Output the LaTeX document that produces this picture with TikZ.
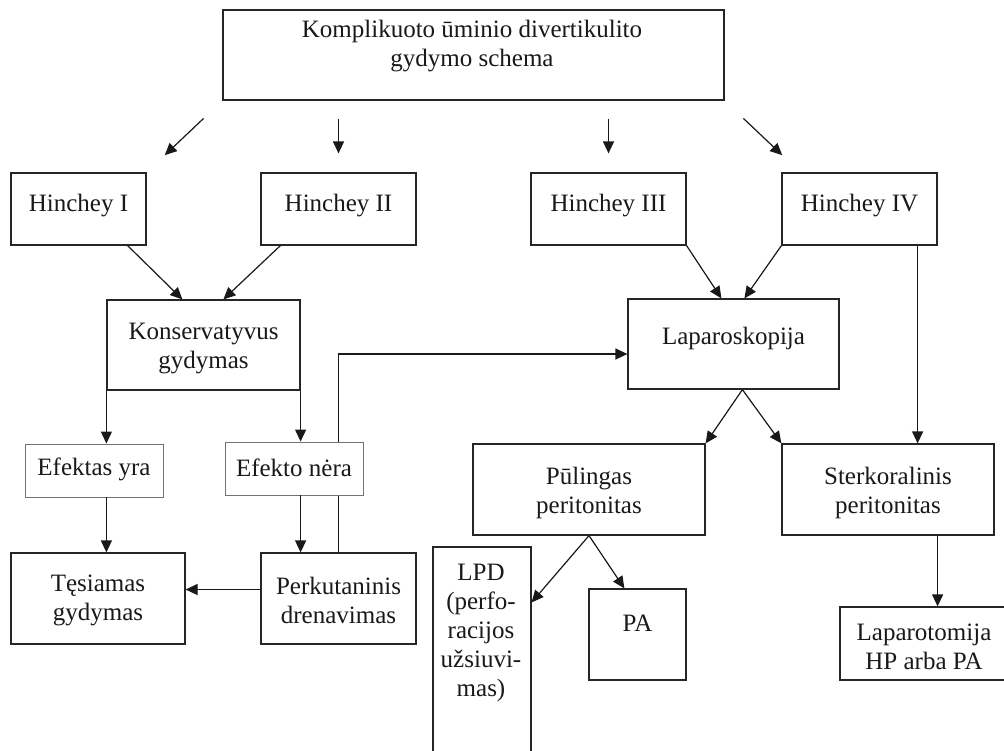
\documentclass[tikz,border=0pt]{standalone}
\usepackage{fontspec}
\setmainfont{Liberation Serif}
\usetikzlibrary{arrows.meta,calc,backgrounds}
\begin{document}
\begin{tikzpicture}[x=1pt,y=-1pt,
  box/.style 2 args={draw=black!85, line width=1.2pt, fill=white, inner sep=0pt, minimum width=#1pt, minimum height=#2pt},
  gbox/.style 2 args={box={#1}{#2}, draw=black!55, line width=0.9pt},
  txt/.style={font=\fontsize{25}{29}\selectfont, align=center, inner sep=0pt, text=black!90},
  arr/.style={line width=1.2pt, draw=black!90, -{Triangle[length=12pt,width=11pt]}}]
\useasboundingbox (0,0) rectangle (1004,750);
\clip (0,0) rectangle (1004,750);
% boxes
\node[box={501}{90}]  (top) at (473.5,55) {};
\node[box={135}{72}]  (H1)  at (78.5,209) {};
\node[box={155}{72}]  (H2)  at (338.5,209) {};
\node[box={155}{72}]  (H3)  at (608.5,209) {};
\node[box={155}{72}]  (H4)  at (859.5,209) {};
\node[box={193}{90}]  (K)   at (203.5,345) {};
\node[gbox={138}{53}] (E1)  at (94,470.5) {};
\node[gbox={138}{53}] (E2)  at (294,468.5) {};
\node[box={174}{91}]  (T)   at (98,598.5) {};
\node[box={155}{91}]  (P)   at (338.5,598.5) {};
\node[box={211}{90}]  (Lap) at (733.5,344) {};
\node[box={232}{91}]  (Pul) at (589,489.5) {};
\node[box={212}{91}]  (S)   at (888,489.5) {};
\node[box={98}{233}]  (LPD) at (482,663.5) {};
\node[box={97}{91}]   (PA)  at (637.5,634.5) {};
\node[box={168}{73}]  (LT)  at (924,643.5) {};
% texts
\node[txt] (top-t) at (472,46) {Komplikuoto ūminio divertikulito\\gydymo schema};
\node[txt] (H1-t) at (78.5,206) {Hinchey I};
\node[txt] (H2-t) at (338.5,206) {Hinchey II};
\node[txt] (H3-t) at (608.5,206) {Hinchey III};
\node[txt] (H4-t) at (859.5,206) {Hinchey IV};
\node[txt] (K-t) at (203.5,349) {Konservatyvus\\gydymas};
\node[txt] (E1-t) at (94,469) {Efektas yra};
\node[txt] (E2-t) at (294,468) {Efekto nėra};
\node[txt] (T-t) at (98,600) {Tęsiamas\\gydymas};
\node[txt] (P-t) at (338.5,600) {Perkutaninis\\drenavimas};
\node[txt] (Lap-t) at (733.5,338) {Laparoskopija};
\node[txt] (Pul-t) at (589,493) {Pūlingas\\peritonitas};
\node[txt] (S-t) at (888,493) {Sterkoralinis\\peritonitas};
\node[txt] (LPD-t) at (481,632.5) {LPD\\(perfo-\\racijos\\užsiuvi-\\mas)};
\node[txt] (PA-t) at (637.5,623) {PA};
\node[txt] (LT-t) at (924,647) {Laparotomija\\HP arba PA};
% helper coordinates
\coordinate (h4o) at ($(H4.south east)+(-20,0)$);
\coordinate (lapo) at ($(Lap.south west)+(115,0)$);
\coordinate (so) at ($(S.south east)+(-57,0)$);
% connectors
\draw[arr, shorten <=26pt, shorten >=25pt] (top.south west) -- (H1.north east);
\draw[arr, shorten <=18pt, shorten >=19pt] (top.south -| H2.north) -- (H2.north);
\draw[arr, shorten <=18pt, shorten >=19pt] (top.south -| H3.north) -- (H3.north);
\draw[arr, shorten <=26pt, shorten >=25pt] (top.south east) -- ($(H4.north west)+(19,0)$);
\draw[arr] ($(H1.south east)+(-19,0)$) -- ($(K.north west)+(76,0)$);
\draw[arr] ($(H2.south west)+(20,0)$) -- ($(K.north west)+(117,0)$);
\draw[arr] (H3.south east) -- ($(Lap.north west)+(94,0)$);
\draw[arr] (H4.south west) -- ($(Lap.north west)+(117,0)$);
\draw[arr] (h4o) -- (h4o |- S.north);
\draw[arr] (K.south west) -- (K.south west |- E1.north);
\draw[arr] (K.south east) -- (K.south east |- E2.north);
\draw[arr] (E1.south -| K.south west) -- (T.north -| K.south west);
\draw[arr] (E2.south -| K.south east) -- (P.north -| K.south east);
\draw[arr] ($(P.west)+(0,-9)$) -- ($(T.east)+(0,-9)$);
\begin{pgfonlayer}{background}
\draw[arr] ($(P.north west)+(78,0)$) |- ($(Lap.west)+(0,10)$);
\end{pgfonlayer}
\draw[arr] (lapo) -- (Pul.north east);
\draw[arr] (lapo) -- (S.north west);
\draw[arr] (so) -- (so |- LT.north);
\draw[arr] (Pul.south) -- ($(LPD.north east)+(0,56)$);
\draw[arr] (Pul.south) -- ($(PA.north west)+(36,0)$);
\end{tikzpicture}
\end{document}
